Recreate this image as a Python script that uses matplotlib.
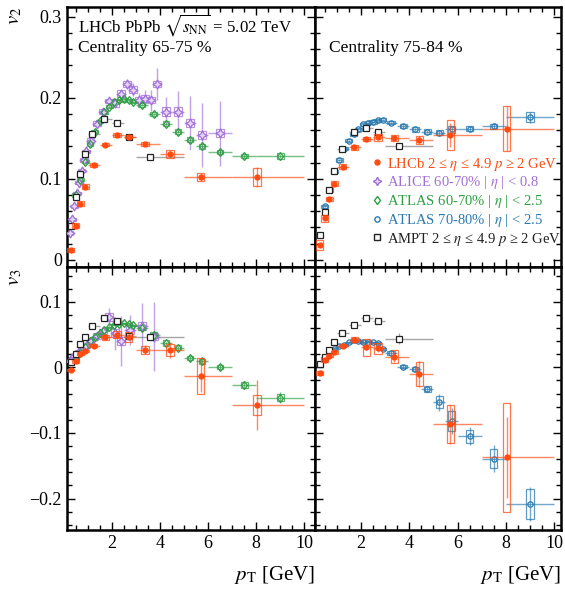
import matplotlib
matplotlib.use("Agg")
import matplotlib.pyplot as plt
from matplotlib.lines import Line2D
from matplotlib.patches import Rectangle
from matplotlib.ticker import MultipleLocator

plt.rcParams['font.family'] = ['Liberation Serif', 'DejaVu Serif']
plt.rcParams['mathtext.fontset'] = 'stix'

# ---- LHCb (pT bins shared by both centralities)
lhcb_pt = [0.3, 0.5, 0.7, 0.9, 1.25, 1.73, 2.22, 2.71, 3.38, 4.42, 5.7, 8.03]
lhcb_lo = [0.2, 0.4, 0.6, 0.8, 1.0, 1.5, 2.0, 2.5, 3.0, 4.0, 5.0, 7.0]
lhcb_hi = [0.4, 0.6, 0.8, 1.0, 1.5, 2.0, 2.5, 3.0, 4.0, 5.0, 7.0, 10.0]

lhcb_v2_6575 = [0.012, 0.042, 0.069, 0.090, 0.117, 0.142, 0.154, 0.152, 0.143, 0.131, 0.102, 0.102]
lhcb_v2_6575_stat = [0.001, 0.001, 0.001, 0.001, 0.001, 0.002, 0.002, 0.002, 0.002, 0.004, 0.005, 0.012]
lhcb_v2_6575_syst = [0.003, 0.003, 0.003, 0.003, 0.002, 0.002, 0.002, 0.002, 0.002, 0.005, 0.005, 0.011]

lhcb_v2_7584 = [0.018, 0.051, 0.075, 0.094, 0.115, 0.139, 0.149, 0.151, 0.150, 0.148, 0.154, 0.162]
lhcb_v2_7584_stat = [0.001, 0.001, 0.001, 0.001, 0.001, 0.002, 0.002, 0.003, 0.004, 0.005, 0.015, 0.028]
lhcb_v2_7584_syst = [0.006, 0.004, 0.003, 0.003, 0.003, 0.003, 0.003, 0.004, 0.004, 0.005, 0.018, 0.028]

lhcb_v3_6575 = [-0.004, 0.009, 0.021, 0.025, 0.033, 0.046, 0.050, 0.046, 0.027, 0.027, -0.013, -0.057]
lhcb_v3_6575_stat = [0.002, 0.002, 0.002, 0.002, 0.002, 0.003, 0.004, 0.005, 0.007, 0.012, 0.025, 0.038]
lhcb_v3_6575_syst = [0.002, 0.002, 0.002, 0.002, 0.002, 0.004, 0.005, 0.008, 0.006, 0.009, 0.027, 0.015]

lhcb_v3_7584 = [-0.009, 0.011, 0.018, 0.023, 0.033, 0.042, 0.031, 0.029, 0.016, -0.010, -0.087, -0.137]
lhcb_v3_7584_stat = [0.002, 0.002, 0.002, 0.002, 0.002, 0.003, 0.005, 0.006, 0.008, 0.020, 0.030, 0.062]
lhcb_v3_7584_syst = [0.003, 0.003, 0.002, 0.002, 0.002, 0.004, 0.013, 0.008, 0.010, 0.018, 0.029, 0.083]

# ---- ALICE 60-70%
alice_v2_pt = [0.25, 0.35, 0.45, 0.55, 0.65, 0.75, 0.85, 0.95, 1.125, 1.375, 1.625, 1.875,
               2.125, 2.375, 2.625, 2.875, 3.125, 3.375, 3.625, 3.875, 4.25, 4.75, 5.25, 5.75, 6.5]
alice_v2_dpt = [0.05] * 8 + [0.125] * 12 + [0.25] * 4 + [0.5]
alice_v2 = [0.033, 0.050, 0.066, 0.082, 0.095, 0.110, 0.123, 0.134, 0.147, 0.168, 0.183, 0.196,
            0.193, 0.205, 0.217, 0.210, 0.197, 0.199, 0.197, 0.217, 0.183, 0.183, 0.169, 0.154, 0.156]
alice_v2_stat = [0.001] * 8 + [0.002, 0.002, 0.003, 0.003, 0.004, 0.005, 0.006, 0.008, 0.009,
                               0.011, 0.013, 0.020, 0.018, 0.025, 0.033, 0.040, 0.040]
alice_v2_syst = [0.002] * 8 + [0.003] * 4 + [0.004] * 8 + [0.005] * 5

alice_v3_pt = [0.25, 0.35, 0.45, 0.55, 0.65, 0.75, 0.85, 0.95, 1.125, 1.375, 1.625, 1.875,
               2.125, 2.375, 2.75, 3.25, 3.75]
alice_v3_dpt = [0.05] * 8 + [0.125] * 6 + [0.25] * 3
alice_v3 = [0.010, 0.013, 0.017, 0.021, 0.024, 0.027, 0.030, 0.033, 0.040, 0.048, 0.055, 0.077,
            0.052, 0.040, 0.057, 0.063, 0.047]
alice_v3_stat = [0.002] * 8 + [0.003, 0.004, 0.006, 0.014, 0.025, 0.038, 0.023, 0.035, 0.052]
alice_v3_syst = [0.003] * 8 + [0.004] * 3 + [0.006] * 6

# ---- ATLAS (same pT bins for both centralities)
atlas_pt = [0.5, 0.7, 0.9, 1.1, 1.3, 1.5, 1.7, 1.9, 2.1, 2.3, 2.5, 2.7, 2.9,
            3.25, 3.75, 4.25, 4.75, 5.25, 5.75, 6.5, 7.5, 9.0]
atlas_dpt = [0.1] * 13 + [0.25] * 6 + [0.5, 0.5, 1.0]

atlas_v2_6070 = [0.080, 0.099, 0.121, 0.143, 0.158, 0.171, 0.182, 0.189, 0.195, 0.197, 0.198, 0.197, 0.195,
                 0.191, 0.180, 0.168, 0.158, 0.148, 0.140, 0.133, 0.128, 0.128]
atlas_v2_6070_stat = [0.001] * 16 + [0.002, 0.002, 0.002, 0.002, 0.003, 0.003]
atlas_v2_6070_syst = [0.002] * 15 + [0.003] * 6 + [0.004]

atlas_v3_6070 = [0.013, 0.022, 0.031, 0.040, 0.046, 0.052, 0.057, 0.061, 0.065, 0.066, 0.067, 0.066, 0.064,
                 0.060, 0.050, 0.037, 0.030, 0.014, 0.009, 0.000, -0.027, -0.046]
atlas_v3_6070_stat = [0.001] * 13 + [0.002, 0.002, 0.002, 0.003, 0.003, 0.004, 0.004, 0.006, 0.008]
atlas_v3_6070_syst = [0.001] * 13 + [0.003, 0.004, 0.004, 0.004, 0.003, 0.004, 0.003, 0.005, 0.006]

atlas_v2_7080 = [0.066, 0.086, 0.109, 0.123, 0.137, 0.147, 0.155, 0.161, 0.167, 0.169, 0.170, 0.172, 0.173,
                 0.169, 0.165, 0.161, 0.158, 0.157, 0.161, 0.162, 0.165, 0.176]
atlas_v2_7080_stat = [0.001] * 14 + [0.002, 0.002, 0.002, 0.003, 0.003, 0.003, 0.004, 0.007]
atlas_v2_7080_syst = [0.002] * 15 + [0.003, 0.003, 0.003, 0.004, 0.003, 0.003, 0.006]

atlas_v3_7080 = [0.015, 0.023, 0.028, 0.032, 0.034, 0.038, 0.041, 0.040, 0.038, 0.039, 0.038, 0.037, 0.028,
                 0.022, 0.001, -0.003, -0.033, -0.053, -0.082, -0.105, -0.139, -0.208]
atlas_v3_7080_stat = [0.001] * 13 + [0.002, 0.003, 0.004, 0.005, 0.013, 0.020, 0.014, 0.021, 0.026]
atlas_v3_7080_syst = [0.001] * 13 + [0.003, 0.002, 0.003, 0.004, 0.009, 0.015, 0.010, 0.015, 0.023]

# ---- AMPT
ampt_pt = [0.3, 0.5, 0.7, 0.9, 1.2, 1.7, 2.2, 2.72, 3.57]
ampt_lo = [0.2, 0.4, 0.6, 0.8, 1.0, 1.5, 2.0, 2.5, 3.0]
ampt_hi = [0.4, 0.6, 0.8, 1.0, 1.5, 2.0, 2.5, 3.0, 5.0]
ampt_v2_6575 = [0.042, 0.078, 0.106, 0.130, 0.155, 0.174, 0.169, 0.151, 0.127]
ampt_v2_7584 = [0.030, 0.059, 0.086, 0.110, 0.137, 0.158, 0.163, 0.158, 0.140]
ampt_v2_stat = [0.001] * 7 + [0.002, 0.003]
ampt_v3_6575 = [0.008, 0.021, 0.035, 0.047, 0.063, 0.075, 0.071, 0.048, 0.047]
ampt_v3_6575_stat = [0.001] * 5 + [0.002, 0.002, 0.003, 0.004]
ampt_v3_7584 = [0.005, 0.016, 0.027, 0.039, 0.053, 0.064, 0.076, 0.070, 0.044]
ampt_v3_7584_stat = [0.001] * 5 + [0.002, 0.003, 0.004, 0.008]

v2_ticks = [0, 0.1, 0.2, 0.3]
v3_ticks = [-0.2, -0.1, 0, 0.1]
pt_ticks = [2, 4, 6, 8, 10]

legend_labels = ['LHCb 2 ≤ $\\eta$ ≤ 4.9 $p$ ≥ 2 GeV',
                 'ALICE 60-70% | $\\eta$ | < 0.8',
                 'ATLAS 60-70% | $\\eta$ | < 2.5',
                 'ATLAS 70-80% | $\\eta$ | < 2.5',
                 'AMPT 2 ≤ $\\eta$ ≤ 4.9 $p$ ≥ 2 GeV']

C_LHCB = '#ff4a10'
C_ALICE = '#a070d8'
C_ALICE_FILL = '#e4d4f7'
C_ATL1 = '#2f9e44'
C_ATL2 = '#2a7ab0'
C_AMPT = '#222222'


def draw(ax, x, y, stat, xlo=None, xhi=None, dx=None, syst=None, color='k', ecolor=None,
         marker='o', ms=4, mfc='none', bw=0.15, z=3):
    if dx is not None:
        xerr = [dx, dx]
    else:
        xerr = [[a - b for a, b in zip(x, xlo)], [b - a for a, b in zip(x, xhi)]]
    # systematic boxes
    if syst is not None:
        for xi, yi, s in zip(x, y, syst):
            ax.add_patch(Rectangle((xi - bw, yi - s), 2 * bw, 2 * s, fill=False,
                                   ec=color, lw=0.9, alpha=0.75, zorder=z - 1))
    ax.errorbar(x, y, xerr=xerr, yerr=stat, fmt='none', ecolor=ecolor or color,
                elinewidth=1.0, alpha=0.65, zorder=z - 1)
    ax.plot(x, y, ls='none', marker=marker, ms=ms, mfc=mfc, mec=color, mew=0.9, zorder=z)


def fmt(v):
    if abs(v) < 1e-9:
        return '0'
    return ('%g' % v).replace('-', '\u2212')


fig = plt.figure(figsize=(5.65, 5.91), dpi=100)
L0, W0 = 0.118, 0.4395
L1, W1 = 0.5575, 0.4354
B_top, H_top = 0.5482, 0.4399
B_bot, H_bot = 0.1032, 0.4450
ax_tl = fig.add_axes([L0, B_top, W0, H_top])
ax_tr = fig.add_axes([L1, B_top, W1, H_top])
ax_bl = fig.add_axes([L0, B_bot, W0, H_bot])
ax_br = fig.add_axes([L1, B_bot, W1, H_bot])

# top-left: v2, 65-75%
draw(ax_tl, alice_v2_pt, alice_v2, alice_v2_stat, dx=alice_v2_dpt, syst=alice_v2_syst,
     color=C_ALICE, marker=(4, 1, 0), ms=6.5, mfc=C_ALICE_FILL, bw=0.16)
draw(ax_tl, atlas_pt, atlas_v2_6070, atlas_v2_6070_stat, dx=atlas_dpt, syst=atlas_v2_6070_syst,
     color=C_ATL1, marker='d', ms=4.5, bw=0.14)
draw(ax_tl, ampt_pt, ampt_v2_6575, ampt_v2_stat, xlo=ampt_lo, xhi=ampt_hi,
     color=C_AMPT, ecolor='#777777', marker='s', ms=4.5, mfc='white')
draw(ax_tl, lhcb_pt, lhcb_v2_6575, lhcb_v2_6575_stat, xlo=lhcb_lo, xhi=lhcb_hi,
     syst=lhcb_v2_6575_syst, color=C_LHCB, marker='o', ms=3.6, mfc=C_LHCB, z=5)

# top-right: v2, 75-84%
draw(ax_tr, atlas_pt, atlas_v2_7080, atlas_v2_7080_stat, dx=atlas_dpt, syst=atlas_v2_7080_syst,
     color=C_ATL2, marker='o', ms=3.8, bw=0.15)
draw(ax_tr, ampt_pt, ampt_v2_7584, ampt_v2_stat, xlo=ampt_lo, xhi=ampt_hi,
     color=C_AMPT, ecolor='#777777', marker='s', ms=4.5, mfc='white')
draw(ax_tr, lhcb_pt, lhcb_v2_7584, lhcb_v2_7584_stat, xlo=lhcb_lo, xhi=lhcb_hi,
     syst=lhcb_v2_7584_syst, color=C_LHCB, marker='o', ms=3.6, mfc=C_LHCB, z=5)

# bottom-left: v3, 65-75%
draw(ax_bl, alice_v3_pt, alice_v3, alice_v3_stat, dx=alice_v3_dpt, syst=alice_v3_syst,
     color=C_ALICE, marker=(4, 1, 0), ms=6.5, mfc=C_ALICE_FILL, bw=0.16)
draw(ax_bl, atlas_pt, atlas_v3_6070, atlas_v3_6070_stat, dx=atlas_dpt, syst=atlas_v3_6070_syst,
     color=C_ATL1, marker='d', ms=4.5, bw=0.14)
draw(ax_bl, ampt_pt, ampt_v3_6575, ampt_v3_6575_stat, xlo=ampt_lo, xhi=ampt_hi,
     color=C_AMPT, ecolor='#777777', marker='s', ms=4.5, mfc='white')
draw(ax_bl, lhcb_pt, lhcb_v3_6575, lhcb_v3_6575_stat, xlo=lhcb_lo, xhi=lhcb_hi,
     syst=lhcb_v3_6575_syst, color=C_LHCB, marker='o', ms=3.6, mfc=C_LHCB, z=5)

# bottom-right: v3, 75-84%
draw(ax_br, atlas_pt, atlas_v3_7080, atlas_v3_7080_stat, dx=atlas_dpt, syst=atlas_v3_7080_syst,
     color=C_ATL2, marker='o', ms=3.8, bw=0.15)
draw(ax_br, ampt_pt, ampt_v3_7584, ampt_v3_7584_stat, xlo=ampt_lo, xhi=ampt_hi,
     color=C_AMPT, ecolor='#777777', marker='s', ms=4.5, mfc='white')
draw(ax_br, lhcb_pt, lhcb_v3_7584, lhcb_v3_7584_stat, xlo=lhcb_lo, xhi=lhcb_hi,
     syst=lhcb_v3_7584_syst, color=C_LHCB, marker='o', ms=3.6, mfc=C_LHCB, z=5)

for ax in (ax_tl, ax_bl):
    ax.set_xlim(0.13, 10.44)
for ax in (ax_tr, ax_br):
    ax.set_xlim(0.10, 10.28)
for ax in (ax_tl, ax_tr):
    ax.set_ylim(-0.009, 0.312)
    ax.set_yticks(v2_ticks, labels=[fmt(v) for v in v2_ticks])
for ax in (ax_bl, ax_br):
    ax.set_ylim(-0.248, 0.153)
    ax.set_yticks(v3_ticks, labels=[fmt(v) for v in v3_ticks])

for ax in (ax_tl, ax_tr, ax_bl, ax_br):
    ax.set_xticks(pt_ticks, labels=[fmt(v) for v in pt_ticks])
    ax.xaxis.set_minor_locator(MultipleLocator(0.5))
    ax.yaxis.set_minor_locator(MultipleLocator(0.02))
    ax.tick_params(which='both', direction='in', top=True, right=True, labelsize=13, width=1.0)
    ax.tick_params(which='major', length=6)
    ax.tick_params(which='minor', length=3.5)
    for s in ax.spines.values():
        s.set_linewidth(1.8)

for ax in (ax_tl, ax_tr):
    ax.tick_params(labelbottom=False)
for ax in (ax_tr, ax_br):
    ax.tick_params(labelleft=False)

ax_tl.text(0.045, 0.93, r'LHCb PbPb $\sqrt{s_{\mathrm{NN}}}$ = 5.02 TeV', transform=ax_tl.transAxes,
           fontsize=12.2, va='center', ha='left')
ax_tl.text(0.045, 0.842, 'Centrality 65-75 %', transform=ax_tl.transAxes,
           fontsize=12.5, va='center', ha='left')
ax_tr.text(0.057, 0.842, 'Centrality 75-84 %', transform=ax_tr.transAxes,
           fontsize=12.5, va='center', ha='left')

fig.text(0.027, 0.988, r'$v_2$', rotation=90, fontsize=15, ha='center', va='top')
fig.text(0.027, 0.545, r'$v_3$', rotation=90, fontsize=15, ha='center', va='top')
for ax in (ax_bl, ax_br):
    ax.set_xlabel(r'$p_{\mathrm{T}}$ [GeV]', loc='right', fontsize=15, labelpad=9)

handles = [
    Line2D([], [], ls='none', marker='o', ms=3.6, mfc=C_LHCB, mec=C_LHCB),
    Line2D([], [], ls='none', marker=(4, 1, 0), ms=6, mfc=C_ALICE_FILL, mec=C_ALICE),
    Line2D([], [], ls='none', marker='d', ms=4.5, mfc='none', mec=C_ATL1),
    Line2D([], [], ls='none', marker='o', ms=3.8, mfc='none', mec=C_ATL2),
    Line2D([], [], ls='none', marker='s', ms=4.5, mfc='white', mec=C_AMPT),
]
ax_tr.legend(handles, legend_labels, loc='lower left', bbox_to_anchor=(0.235, 0.075),
             frameon=False, fontsize=10.5, handlelength=0.6, handletextpad=0.35,
             labelspacing=0.12, borderpad=0.0, borderaxespad=0.0,
             labelcolor=[C_LHCB, C_ALICE, C_ATL1, C_ATL2, C_AMPT])

fig.savefig('out.png', dpi=100)
